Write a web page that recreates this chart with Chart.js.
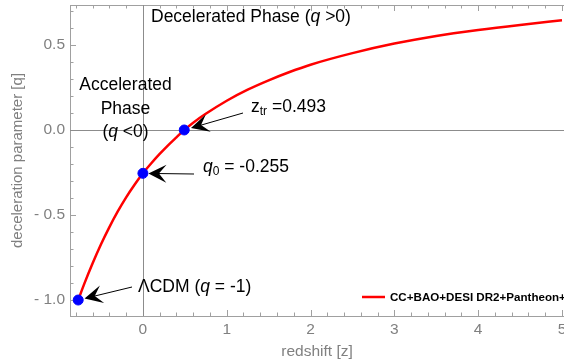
<!DOCTYPE html>
<html>
<head>
<meta charset="utf-8">
<script src="https://cdn.jsdelivr.net/npm/chart.js@4.4.0/dist/chart.umd.min.js"></script>
<style>
  html, body { margin: 0; padding: 0; background: #fff; }
  #wrap { width: 564px; height: 362px; position: relative; }
</style>
</head>
<body>
<div id="wrap"><canvas id="qChart"></canvas></div>
<script>
// q(z) curve
const redshift = [-0.772, -0.7, -0.6, -0.5, -0.4, -0.3, -0.2, -0.1, 0, 0.1, 0.2, 0.3, 0.4, 0.493, 0.6, 0.75, 1.0, 1.25, 1.5, 1.75, 2.0, 2.5, 3.0, 3.5, 4.0, 4.5, 5.0];
const qValues = [-1.0, -0.905, -0.784, -0.672, -0.571, -0.479, -0.396, -0.322, -0.255, -0.196, -0.141, -0.09, -0.043, 0, 0.043, 0.095, 0.172, 0.237, 0.292, 0.341, 0.384, 0.452, 0.508, 0.553, 0.588, 0.618, 0.645];

// marked points: LCDM, q0, z_tr
const markZ = [-0.772, 0, 0.493];
const markQ = [-1, -0.255, 0];

const xTickVals = [0, 1, 2, 3, 4, 5];
const yTickVals = [-1, -0.5, 0, 0.5];
const yTickLabels = ["- 1.0", "- 0.5", "0.0", "0.5"];

const seriesLabel = "CC+BAO+DESI DR2+Pantheon+";

const FONT = '"Liberation Sans", Arial, sans-serif';
const GREY = "#808080";

function fontFor(p) {
  return (p.bold ? "bold " : "") + (p.italic ? "italic " : "") + (p.sub ? 12 : (p.size || 17.5)) + "px " + FONT;
}

function richText(ctx, parts, x, y, align) {
  let w = 0;
  parts.forEach(p => { ctx.font = fontFor(p); w += ctx.measureText(p.t).width; });
  let cx = align === "center" ? x - w / 2 : x;
  parts.forEach(p => {
    ctx.font = fontFor(p);
    ctx.fillText(p.t, cx, y + (p.sub ? 5 : 0));
    cx += ctx.measureText(p.t).width;
  });
}

function arrow(ctx, x1, y1, px, py, gap) {
  const dx = x1 - px, dy = y1 - py;
  const len = Math.hypot(dx, dy);
  const ux = dx / len, uy = dy / len;
  const tx = px + ux * gap, ty = py + uy * gap;
  ctx.save();
  ctx.strokeStyle = "#000";
  ctx.lineWidth = 1;
  ctx.beginPath();
  ctx.moveTo(x1, y1);
  ctx.lineTo(tx + ux * 10, ty + uy * 10);
  ctx.stroke();
  // arrow head
  const L = 18, W = 9, N = 7.5;
  const nx = -uy, ny = ux;
  ctx.fillStyle = "#000";
  ctx.beginPath();
  ctx.moveTo(tx, ty);
  ctx.lineTo(tx + ux * L + nx * W, ty + uy * L + ny * W);
  ctx.lineTo(tx + ux * (L - N), ty + uy * (L - N));
  ctx.lineTo(tx + ux * L - nx * W, ty + uy * L - ny * W);
  ctx.closePath();
  ctx.fill();
  ctx.restore();
}

const framePlugin = {
  id: "frame",
  beforeDatasetsDraw(chart) {
    const { ctx, chartArea: a, scales: { x, y } } = chart;
    ctx.save();
    ctx.strokeStyle = "#a0a0a0";
    ctx.lineWidth = 1;
    ctx.strokeRect(a.left + 0.5, a.top + 0.5, a.right - a.left, a.bottom - a.top);
    // ticks on the frame, pointing inwards
    ctx.beginPath();
    for (let i = -4; i <= 25; i++) {
      const v = i / 5;
      const px = Math.round(x.getPixelForValue(v)) + 0.5;
      const t = (i % 5 === 0) ? 6 : 3.5;
      ctx.moveTo(px, a.bottom); ctx.lineTo(px, a.bottom - t);
      ctx.moveTo(px, a.top); ctx.lineTo(px, a.top + t);
    }
    for (let i = -10; i <= 7; i++) {
      const v = i / 10;
      const py = Math.round(y.getPixelForValue(v)) + 0.5;
      const t = (i % 5 === 0) ? 6 : 3.5;
      ctx.moveTo(a.left, py); ctx.lineTo(a.left + t, py);
    }
    ctx.stroke();
    // axes through the origin
    ctx.strokeStyle = "#8c8c8c";
    ctx.beginPath();
    const x0 = Math.round(x.getPixelForValue(0)) + 0.5;
    const y0 = Math.round(y.getPixelForValue(0)) + 0.5;
    ctx.moveTo(x0, a.top); ctx.lineTo(x0, a.bottom);
    ctx.moveTo(a.left, y0); ctx.lineTo(a.right, y0);
    ctx.stroke();
    ctx.restore();
  },
  afterDatasetsDraw(chart) {
    const { ctx, scales: { x, y } } = chart;
    ctx.save();
    ctx.fillStyle = "#000";
    ctx.textBaseline = "middle";
    richText(ctx, [{ t: "Decelerated Phase (" }, { t: "q", italic: true }, { t: " >0)" }], 151, 17, "left");
    richText(ctx, [{ t: "Accelerated" }], 125.5, 85, "center");
    richText(ctx, [{ t: "Phase" }], 125.5, 109, "center");
    richText(ctx, [{ t: "(" }, { t: "q", italic: true }, { t: " <0)" }], 125.5, 132, "center");
    richText(ctx, [{ t: "z" }, { t: "tr", sub: true }, { t: " =0.493" }], 251, 107, "left");
    richText(ctx, [{ t: "q", italic: true }, { t: "0", sub: true }, { t: " = -0.255" }], 203, 167, "left");
    richText(ctx, [{ t: "\u039BCDM (" }, { t: "q", italic: true }, { t: " = -1)" }], 138, 287, "left");

    const p = markZ.map((z, i) => [x.getPixelForValue(z), y.getPixelForValue(markQ[i])]);
    arrow(ctx, 243, 113, p[2][0], p[2][1], 7);
    arrow(ctx, 194, 174, p[1][0], p[1][1], 5.5);
    arrow(ctx, 132, 287, p[0][0], p[0][1], 6.5);

    // legend
    ctx.strokeStyle = "#ff0000";
    ctx.lineWidth = 2.5;
    ctx.beginPath();
    ctx.moveTo(362, 297); ctx.lineTo(385, 297);
    ctx.stroke();
    richText(ctx, [{ t: seriesLabel, bold: true, size: 11.6 }], 390, 297.5, "left");
    ctx.restore();
  }
};

new Chart(document.getElementById("qChart"), {
  type: "scatter",
  data: {
    datasets: [
      {
        label: seriesLabel,
        data: redshift.map((z, i) => ({ x: z, y: qValues[i] })),
        showLine: true,
        borderColor: "#ff0000",
        borderWidth: 2.5,
        pointRadius: 0,
        cubicInterpolationMode: "monotone",
        order: 2
      },
      {
        label: "marks",
        data: markZ.map((z, i) => ({ x: z, y: markQ[i] })),
        pointRadius: 5,
        pointBackgroundColor: "#0000ff",
        pointBorderColor: "#0000ff",
        order: 1
      }
    ]
  },
  options: {
    responsive: true,
    maintainAspectRatio: false,
    animation: false,
    layout: { autoPadding: false, padding: { top: 5, right: 0, left: 0, bottom: 0 } },
    plugins: {
      legend: { display: false },
      tooltip: { enabled: false }
    },
    scales: {
      x: {
        type: "linear",
        min: -0.87,
        max: 5.024,
        border: { display: false },
        grid: { display: false, drawTicks: false },
        afterFit(scale) {
          scale.height = 46;
          scale.paddingLeft = 0;
          scale.paddingRight = 0;
        },
        afterBuildTicks(scale) { scale.ticks = xTickVals.map(v => ({ value: v })); },
        ticks: {
          padding: 4,
          color: GREY,
          font: { family: FONT, size: 15.5 },
          callback: v => String(v)
        },
        title: {
          display: true,
          text: "redshift [z]",
          color: GREY,
          font: { family: FONT, size: 15.5 },
          padding: { top: 0, bottom: 1 }
        }
      },
      y: {
        type: "linear",
        min: -1.094,
        max: 0.735,
        border: { display: false },
        grid: { display: false, drawTicks: false },
        afterFit(scale) {
          scale.width = 70;
          scale.paddingTop = 0;
          scale.paddingBottom = 0;
        },
        afterBuildTicks(scale) { scale.ticks = yTickVals.map(v => ({ value: v })); },
        ticks: {
          padding: 5,
          color: GREY,
          font: { family: FONT, size: 15.5 },
          callback: v => yTickLabels[yTickVals.indexOf(v)]
        },
        title: {
          display: true,
          text: "deceleration parameter [q]",
          color: GREY,
          font: { family: FONT, size: 15 },
          padding: { top: 9, bottom: 0 }
        }
      }
    }
  },
  plugins: [framePlugin]
});
</script>
</body>
</html>
